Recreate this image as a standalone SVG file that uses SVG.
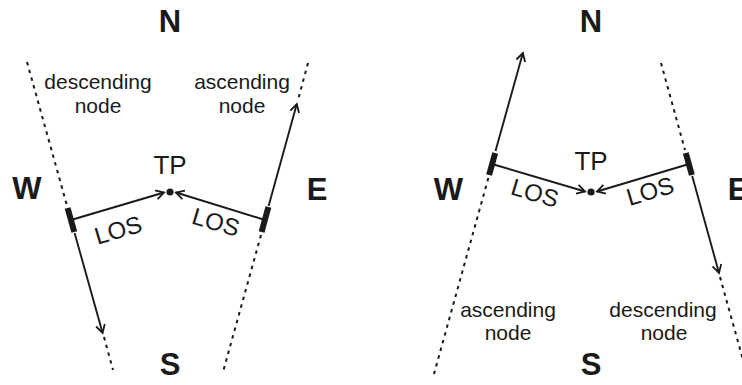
<svg xmlns="http://www.w3.org/2000/svg" width="742" height="385" viewBox="0 0 742 385">
<style>
.bg{fill:#fff}
.dot{stroke:#1a1a1a;stroke-width:2;stroke-dasharray:3.5 4.5;fill:none}
.sol{stroke:#1a1a1a;stroke-width:1.9;fill:none}
.bar{stroke:#1a1a1a;stroke-width:6;fill:none}
.card{font-family:"Liberation Sans",Arial,sans-serif;font-weight:bold;font-size:31px;fill:#1a1a1a}
.lbl{font-family:"Liberation Sans",Arial,sans-serif;font-size:21px;fill:#1a1a1a;text-anchor:middle}
.tp{font-family:"Liberation Sans",Arial,sans-serif;font-size:26px;fill:#1a1a1a;text-anchor:middle}
.los{font-family:"Liberation Sans",Arial,sans-serif;font-size:24px;fill:#1a1a1a;text-anchor:middle}
</style>
<defs>
<marker id="ah" viewBox="-10 -6 12 12" refX="0" refY="0" markerWidth="12" markerHeight="12" markerUnits="userSpaceOnUse" orient="auto">
<path d="M-8,-4.5 L0,0 L-8,4.5" fill="none" stroke="#1a1a1a" stroke-width="1.8"/>
</marker>
</defs>
<rect class="bg" x="0" y="0" width="742" height="385"/>

<!-- LEFT PANEL -->
<g id="left-compass">
<text class="card" x="170" y="32" text-anchor="middle">N</text>
<text class="card" x="170" y="375" text-anchor="middle">S</text>
<text class="card" x="27" y="199" text-anchor="middle">W</text>
<text class="card" x="317" y="200" text-anchor="middle">E</text>
</g>
<g id="left-desc-label">
<text class="lbl" x="98" y="89">descending</text>
<text class="lbl" x="98" y="113">node</text>
</g>
<g id="left-asc-label">
<text class="lbl" x="242" y="89">ascending</text>
<text class="lbl" x="242" y="113">node</text>
</g>
<g id="left-tp">
<text class="tp" x="170" y="174">TP</text>
<circle cx="170" cy="192" r="3.6" fill="#1a1a1a"/>
</g>
<g id="left-west-sat">
<line class="bar" x1="67.6" y1="208" x2="74.3" y2="232"/>
</g>
<g id="left-east-sat">
<line class="bar" x1="268.4" y1="207" x2="261.6" y2="232"/>
</g>
<g id="left-connectors">
<line class="dot" x1="27" y1="62" x2="66.8" y2="205"/>
<line class="dot" x1="104" y1="337" x2="113" y2="370"/>
<line class="sol" x1="74.6" y1="233" x2="102.6" y2="333" marker-end="url(#ah)"/>
<line class="dot" x1="308" y1="63" x2="298" y2="100"/>
<line class="dot" x1="261" y1="235" x2="223" y2="372"/>
<line class="sol" x1="268.6" y1="206" x2="296.8" y2="104" marker-end="url(#ah)"/>
<line class="sol" x1="71" y1="220" x2="164" y2="192.5" marker-end="url(#ah)"/>
<line class="sol" x1="265" y1="220" x2="176" y2="192.5" marker-end="url(#ah)"/>
<text class="los" transform="translate(120.5,238) rotate(-16.6)">LOS</text>
<text class="los" transform="translate(213.5,230) rotate(16.6)">LOS</text>
</g>

<!-- RIGHT PANEL -->
<g id="right-compass">
<text class="card" x="591" y="32" text-anchor="middle">N</text>
<text class="card" x="591" y="375" text-anchor="middle">S</text>
<text class="card" x="448.5" y="200" text-anchor="middle">W</text>
<text class="card" x="738" y="200" text-anchor="middle">E</text>
</g>
<g id="right-asc-label">
<text class="lbl" x="508" y="317">ascending</text>
<text class="lbl" x="508" y="340">node</text>
</g>
<g id="right-desc-label">
<text class="lbl" x="663" y="317">descending</text>
<text class="lbl" x="664" y="340">node</text>
</g>
<g id="right-tp">
<text class="tp" x="591" y="170">TP</text>
<circle cx="591" cy="192" r="3.6" fill="#1a1a1a"/>
</g>
<g id="right-west-sat">
<line class="bar" x1="495.2" y1="153" x2="489.1" y2="175"/>
</g>
<g id="right-east-sat">
<line class="bar" x1="685.8" y1="153" x2="691.9" y2="175"/>
</g>
<g id="right-connectors">
<line class="sol" x1="495.5" y1="151" x2="522.9" y2="53" marker-end="url(#ah)"/>
<line class="dot" x1="488.3" y1="178" x2="434" y2="374"/>
<line class="dot" x1="661" y1="63" x2="685" y2="150"/>
<line class="sol" x1="692.2" y1="176" x2="719" y2="273" marker-end="url(#ah)"/>
<line class="dot" x1="720" y1="277" x2="750" y2="385"/>
<line class="sol" x1="492" y1="164" x2="585" y2="191.5" marker-end="url(#ah)"/>
<line class="sol" x1="689" y1="164" x2="597" y2="191.5" marker-end="url(#ah)"/>
<text class="los" transform="translate(532.5,201) rotate(16.7)">LOS</text>
<text class="los" transform="translate(652.5,199) rotate(-16.7)">LOS</text>
</g>
</svg>
